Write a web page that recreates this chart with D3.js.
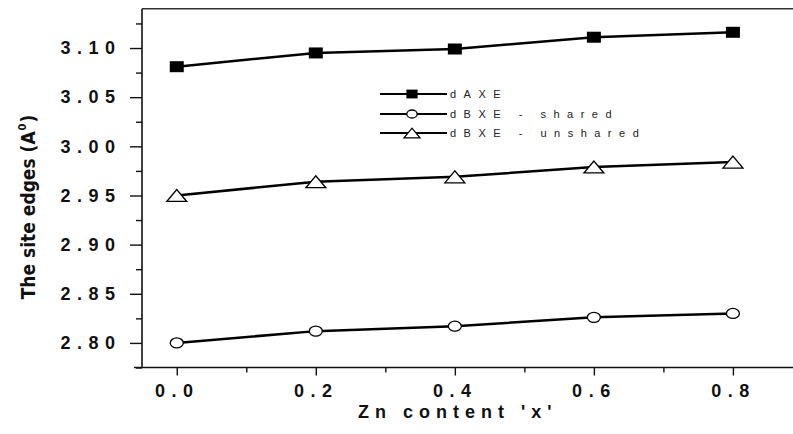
<!DOCTYPE html>
<html>
<head>
<meta charset="utf-8">
<script src="https://cdn.jsdelivr.net/npm/d3@7"></script>
<style>
  body { margin: 0; background: #fff; }
  svg { display: block; }
  .tick text { font-family: "Liberation Sans", Arial, sans-serif; font-weight: bold; font-size: 18px; letter-spacing: 6.5px; fill: #111; }
  .tick line { stroke: #111; stroke-width: 1.4; }
  .legend text { font-family: "Liberation Sans", Arial, sans-serif; font-size: 11px; letter-spacing: 7.5px; fill: #222; }
  .title { font-family: "Liberation Sans", Arial, sans-serif; font-weight: bold; font-size: 18px; letter-spacing: 6px; fill: #111; }
  .ytitle { font-family: "Liberation Sans Narrow", "DejaVu Sans Condensed", sans-serif; font-weight: bold; font-size: 19px; fill: #111; }
</style>
</head>
<body>
<div class="container"></div>
<script>
const w = 793;
const h = 434;

// data
const zn = [0.0, 0.2, 0.4, 0.6, 0.8];
const dAXE = [3.081, 3.095, 3.099, 3.111, 3.116];
const dBXEshared = [2.800, 2.812, 2.817, 2.826, 2.830];
const dBXEunshared = [2.950, 2.964, 2.969, 2.979, 2.984];
const seriesNames = ['dAXE', 'dBXE - shared', 'dBXE - unshared'];
const markers = ['square', 'circle', 'triangle'];

const xMajor = [0.0, 0.2, 0.4, 0.6, 0.8];
const xMinor = [0.1, 0.3, 0.5, 0.7];
const yMajor = [2.80, 2.85, 2.90, 2.95, 3.00, 3.05, 3.10];
const yMinor = [2.775, 2.825, 2.875, 2.925, 2.975, 3.025, 3.075, 3.125];

const svg = d3.select('.container').append('svg')
    .attr('width', w)
    .attr('height', h);

// the original frame runs past the right edge of the picture
const x = d3.scaleLinear().domain([-0.05, 1.2]).range([142, 1011]);
const y = d3.scaleLinear().domain([2.775, 3.14]).range([367.5, 8.7]);

// axes
const gx = svg.append('g').attr('transform', `translate(0, ${y(2.775)})`);
gx.call(d3.axisBottom(x).tickValues(xMajor).tickFormat(d3.format('.1f')).tickSize(8).tickPadding(9));
gx.append('g').call(d3.axisBottom(x).tickValues(xMinor).tickFormat('').tickSize(5));
gx.selectAll('.domain').remove();

const gy = svg.append('g').attr('transform', `translate(${x(-0.05)}, 0)`);
gy.call(d3.axisLeft(y).tickValues(yMajor).tickFormat(d3.format('.2f')).tickSize(12).tickPadding(8.5));
gy.append('g').call(d3.axisLeft(y).tickValues(yMinor).tickFormat('').tickSize(6));
gy.selectAll('.domain').remove();

// frame lines
svg.append('line')
    .attr('x1', x(-0.05) - 8).attr('x2', w)
    .attr('y1', y(2.775)).attr('y2', y(2.775))
    .attr('stroke', '#111').attr('stroke-width', 1.6);
svg.append('line')
    .attr('x1', x(-0.05)).attr('x2', x(-0.05))
    .attr('y1', y(3.14)).attr('y2', y(2.775))
    .attr('stroke', '#111').attr('stroke-width', 1.6);
svg.append('line')
    .attr('x1', x(-0.05)).attr('x2', w)
    .attr('y1', y(3.14)).attr('y2', y(3.14))
    .attr('stroke', '#333').attr('stroke-width', 1.6);

// titles
svg.append('text')
    .attr('class', 'title')
    .attr('x', x(0.4) + 3)
    .attr('y', 418)
    .attr('text-anchor', 'middle')
    .text("Zn content 'x'");

const yt = svg.append('text')
    .attr('class', 'ytitle')
    .attr('transform', 'translate(35, 207) rotate(-90)')
    .attr('text-anchor', 'middle');
yt.append('tspan').text('The site edges (A');
yt.append('tspan').attr('font-size', 11).attr('dy', -9).attr('dx', 1).text('0');
yt.append('tspan').attr('dy', 9).attr('dx', 1).text(')');

// markers
function drawMarker(sel, type, cx, cy, big) {
  const s = big ? 1 : 0.8;
  if (type === 'square') {
    sel.append('rect')
        .attr('x', cx - 7 * s).attr('y', cy - 5.5 * s)
        .attr('width', 14 * s).attr('height', 11 * s)
        .attr('fill', '#000');
  } else if (type === 'circle') {
    sel.append('ellipse')
        .attr('cx', cx).attr('cy', cy)
        .attr('rx', 6.5 * s).attr('ry', 5 * s)
        .attr('fill', '#fff').attr('stroke', '#000').attr('stroke-width', 1.3);
  } else {
    sel.append('path')
        .attr('d', `M${cx - 10 * s},${cy + 6 * s}L${cx},${cy - 6 * s}L${cx + 10 * s},${cy + 6 * s}Z`)
        .attr('fill', '#fff').attr('stroke', '#000').attr('stroke-width', 1.3);
  }
}

const allSeries = [dAXE, dBXEshared, dBXEunshared];
const line = d3.line().x(d => x(d[0])).y(d => y(d[1]));

allSeries.forEach((vals, k) => {
  const pts = zn.map((z, i) => [z, vals[i]]);
  svg.append('path')
      .datum(pts)
      .attr('d', line)
      .attr('fill', 'none')
      .attr('stroke', '#000')
      .attr('stroke-width', 2.5);
  const g = svg.append('g');
  pts.forEach(p => drawMarker(g, markers[k], x(p[0]), y(p[1]), true));
});

// legend
const legendRows = [94, 114, 133];
const legend = svg.append('g').classed('legend', true);
seriesNames.forEach((name, i) => {
  const row = legend.append('g').attr('transform', `translate(0, ${legendRows[i]})`);
  row.append('line')
      .attr('x1', 380).attr('x2', 447)
      .attr('y1', 0).attr('y2', 0)
      .attr('stroke', '#000').attr('stroke-width', 2);
  drawMarker(row, markers[i], 412, 0, false);
  row.append('text')
      .attr('x', 450)
      .attr('dy', '0.35em')
      .text(name);
});
</script>
</body>
</html>
